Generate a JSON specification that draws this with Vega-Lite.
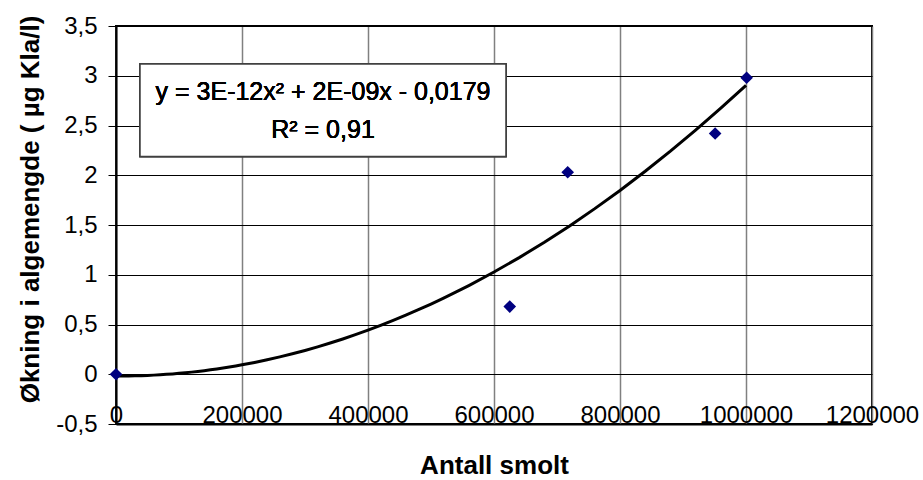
{
  "$schema": "https://vega.github.io/schema/vega-lite/v6.json",
  "width": 756,
  "height": 398,
  "autosize": "none",
  "padding": {"left": 116, "top": 26, "right": 51, "bottom": 56},
  "background": "white",
  "config": {"font": "Liberation Sans", "view": {"stroke": "#000", "strokeWidth": 2}},
  "data": {"values": [
    {"smolt": 0, "okning": 0},
    {"smolt": 625000, "okning": 0.68},
    {"smolt": 717000, "okning": 2.03},
    {"smolt": 951000, "okning": 2.42},
    {"smolt": 1001000, "okning": 2.98}
  ]},
  "layer": [
    {
      "transform": [{"regression": "okning", "on": "smolt", "method": "poly", "order": 2, "extent": [0, 1000000]}],
      "mark": {"type": "line", "color": "#000", "strokeWidth": 3},
      "encoding": {
        "x": {"field": "smolt", "type": "quantitative",
          "scale": {"domain": [0, 1200000], "nice": false, "zero": false},
          "axis": {"title": "Antall smolt", "values": [0, 200000, 400000, 600000, 800000, 1000000, 1200000],
            "format": "d", "labelFontSize": 24, "labelBaseline": "alphabetic", "labelPadding": -2, "ticks": false,
            "labelColor": "#000", "labelFlush": false, "labelOverlap": false,
            "domainColor": "#000", "domainWidth": 2, "gridColor": "#808080", "gridWidth": 1.5, "gridOpacity": 1,
            "titleFontSize": 26, "titleFontWeight": "bold", "titleColor": "#000", "titleY": 49, "titleBaseline": "alphabetic"}},
        "y": {"field": "okning", "type": "quantitative",
          "scale": {"domain": [-0.5, 3.5], "nice": false, "zero": false},
          "axis": {"title": "Økning i algemengde ( µg Kla/l)", "values": [-0.5, 0, 0.5, 1, 1.5, 2, 2.5, 3, 3.5],
            "labelExpr": "datum.value < 0 ? '-' + replace(format(-datum.value, '.1~f'), '.', ',') : replace(format(datum.value, '.1~f'), '.', ',')",
            "labelFontSize": 24, "labelBaseline": "middle", "labelPadding": 11, "labelColor": "#000",
            "tickSize": 8, "tickColor": "#000", "tickWidth": 1, "labelFlush": false, "labelOverlap": false,
            "domainColor": "#000", "domainWidth": 2, "gridColor": "#000", "gridWidth": 1, "gridOpacity": 1,
            "titleFontSize": 26, "titleFontWeight": "bold", "titleColor": "#000",
            "titleX": -86, "titleY": 183, "titleAngle": 270, "titleBaseline": "middle", "titleAlign": "center"}}
      }
    },
    {
      "mark": {"type": "rect", "fill": "white", "stroke": "#404040", "strokeWidth": 1.5},
      "encoding": {
        "x": {"datum": 38100, "type": "quantitative"},
        "x2": {"datum": 619000},
        "y": {"datum": 3.118, "type": "quantitative"},
        "y2": {"datum": 2.188}
      }
    },
    {
      "mark": {"type": "text", "fontSize": 25, "fontWeight": "normal", "color": "#000", "align": "center", "baseline": "alphabetic"},
      "encoding": {
        "x": {"datum": 328600, "type": "quantitative"},
        "y": {"datum": 2.756, "type": "quantitative"},
        "text": {"value": "y = 3E-12x² + 2E-09x - 0,0179"}
      }
    },
    {
      "mark": {"type": "text", "fontSize": 25, "fontWeight": "normal", "color": "#000", "align": "center", "baseline": "alphabetic"},
      "encoding": {
        "x": {"datum": 328600, "type": "quantitative"},
        "y": {"datum": 2.374, "type": "quantitative"},
        "text": {"value": "R² = 0,91"}
      }
    },
    {
      "mark": {"type": "point", "shape": "diamond", "filled": true, "color": "#000080", "size": 160, "opacity": 1},
      "encoding": {
        "x": {"field": "smolt", "type": "quantitative"},
        "y": {"field": "okning", "type": "quantitative"}
      }
    }
  ]
}
